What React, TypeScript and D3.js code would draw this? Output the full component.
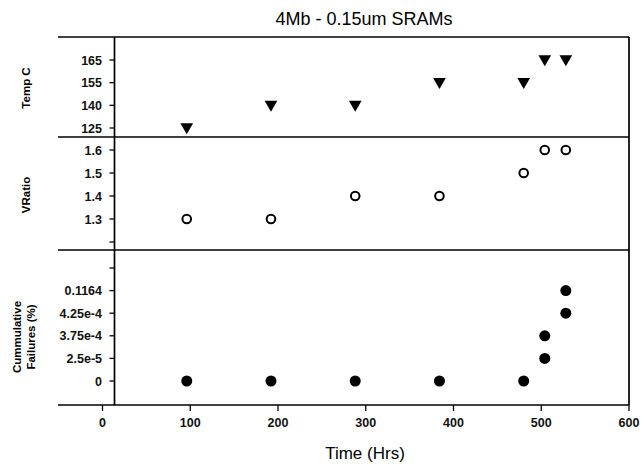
import React from "react";
import * as d3 from "d3";

const times = [96, 192, 288, 384, 480, 504, 528];
const tempLevels = ["165", "155", "140", "125"];
const tempValues = ["125", "140", "140", "155", "155", "165", "165"];
const vratioTicks = [1.2, 1.3, 1.4, 1.5, 1.6];
const vratioValues = [1.3, 1.3, 1.4, 1.4, 1.5, 1.6, 1.6];
const failLevels = ["", "0.1164", "4.25e-4", "3.75e-4", "2.5e-5", "0"];
const failTimes = [96, 192, 288, 384, 480, 504, 504, 528, 528];
const failValues = ["0", "0", "0", "0", "0", "2.5e-5", "3.75e-4", "4.25e-4", "0.1164"];
const xTicks = [0, 100, 200, 300, 400, 500, 600];

const W = 641;
const H = 468;
const FONT = "Liberation Sans, Arial, sans-serif";

export default function App() {
  const x = d3.scaleLinear().domain([0, 600]).range([102.5, 629]);
  const axisX = 114.5;
  const frameLeft = 58;
  const frameRight = 629;
  const panelTops = [37, 137, 250, 405];

  const yTemp = d3.scalePoint<string>().domain(tempLevels).range([60, 128]);
  const yVr = d3.scaleLinear().domain([1.2, 1.6]).range([242, 150]);
  const yFail = d3.scalePoint<string>().domain(failLevels).range([268, 381]);

  const tri = d3.symbol().type(d3.symbolTriangle).size(70)();

  const yTicks: { y: number; label: string }[] = [
    ...tempLevels.map((l) => ({ y: yTemp(l)!, label: l })),
    ...vratioTicks.map((v) => ({ y: yVr(v), label: v === 1.2 ? "" : d3.format(".1f")(v) })),
    ...failLevels.map((l) => ({ y: yFail(l)!, label: l })),
  ];

  return (
    <svg width={W} height={H} style={{ position: "absolute", left: 0, top: 0, background: "#fff" }}>
      <rect x={0} y={0} width={W} height={H} fill="#fff" />
      <text x={364} y={25} textAnchor="middle" fontFamily={FONT} fontSize={18} fill="#000">
        4Mb - 0.15um SRAMs
      </text>

      {/* horizontal frame lines */}
      {panelTops.map((y, i) => (
        <line key={"h" + i} x1={frameLeft} x2={frameRight} y1={y} y2={y} stroke="#000" strokeWidth={1.7} />
      ))}
      {/* left axis and right border */}
      <line x1={axisX} x2={axisX} y1={panelTops[0]} y2={panelTops[3]} stroke="#000" strokeWidth={1.7} />
      <line x1={frameRight} x2={frameRight} y1={panelTops[0]} y2={panelTops[3]} stroke="#000" strokeWidth={1.7} />

      {/* y ticks */}
      {yTicks.map((t, i) => (
        <g key={"yt" + i}>
          <line x1={axisX - 5} x2={axisX} y1={t.y} y2={t.y} stroke="#000" strokeWidth={1.3} />
          {t.label && (
            <text x={102} y={t.y + 4.5} textAnchor="end" fontFamily={FONT} fontSize={12.5} fontWeight="bold" fill="#111">
              {t.label}
            </text>
          )}
        </g>
      ))}

      {/* x ticks */}
      {xTicks.map((v) => (
        <g key={"xt" + v}>
          <line x1={x(v)} x2={x(v)} y1={panelTops[3]} y2={panelTops[3] + 6} stroke="#000" strokeWidth={1.3} />
          <text x={x(v)} y={427} textAnchor="middle" fontFamily={FONT} fontSize={12.5} fontWeight="bold" fill="#111">
            {v}
          </text>
        </g>
      ))}

      {/* axis titles */}
      <text x={365} y={459} textAnchor="middle" fontFamily={FONT} fontSize={17} fill="#000">
        Time (Hrs)
      </text>
      <text transform={`translate(30,88) rotate(-90)`} textAnchor="middle" fontFamily={FONT} fontSize={11.5} fontWeight="bold" fill="#000">
        Temp C
      </text>
      <text transform={`translate(30,195) rotate(-90)`} textAnchor="middle" fontFamily={FONT} fontSize={11.5} fontWeight="bold" fill="#000">
        VRatio
      </text>
      <text transform={`translate(21,337) rotate(-90)`} textAnchor="middle" fontFamily={FONT} fontSize={11.5} fontWeight="bold" fill="#000">
        Cummulative
      </text>
      <text transform={`translate(35,337) rotate(-90)`} textAnchor="middle" fontFamily={FONT} fontSize={11.5} fontWeight="bold" fill="#000">
        Failures (%)
      </text>

      {/* Temp triangles */}
      {times.map((t, i) => (
        <path
          key={"tr" + i}
          d={tri || ""}
          transform={`translate(${x(t)},${yTemp(tempValues[i])! - 1}) rotate(180)`}
          fill="#000"
        />
      ))}

      {/* VRatio open circles */}
      {times.map((t, i) => (
        <circle key={"vr" + i} cx={x(t)} cy={yVr(vratioValues[i])} r={4.3} fill="#fff" stroke="#000" strokeWidth={2} />
      ))}

      {/* failures filled circles */}
      {failTimes.map((t, i) => (
        <circle key={"f" + i} cx={x(t)} cy={yFail(failValues[i])!} r={5.5} fill="#000" />
      ))}
    </svg>
  );
}
